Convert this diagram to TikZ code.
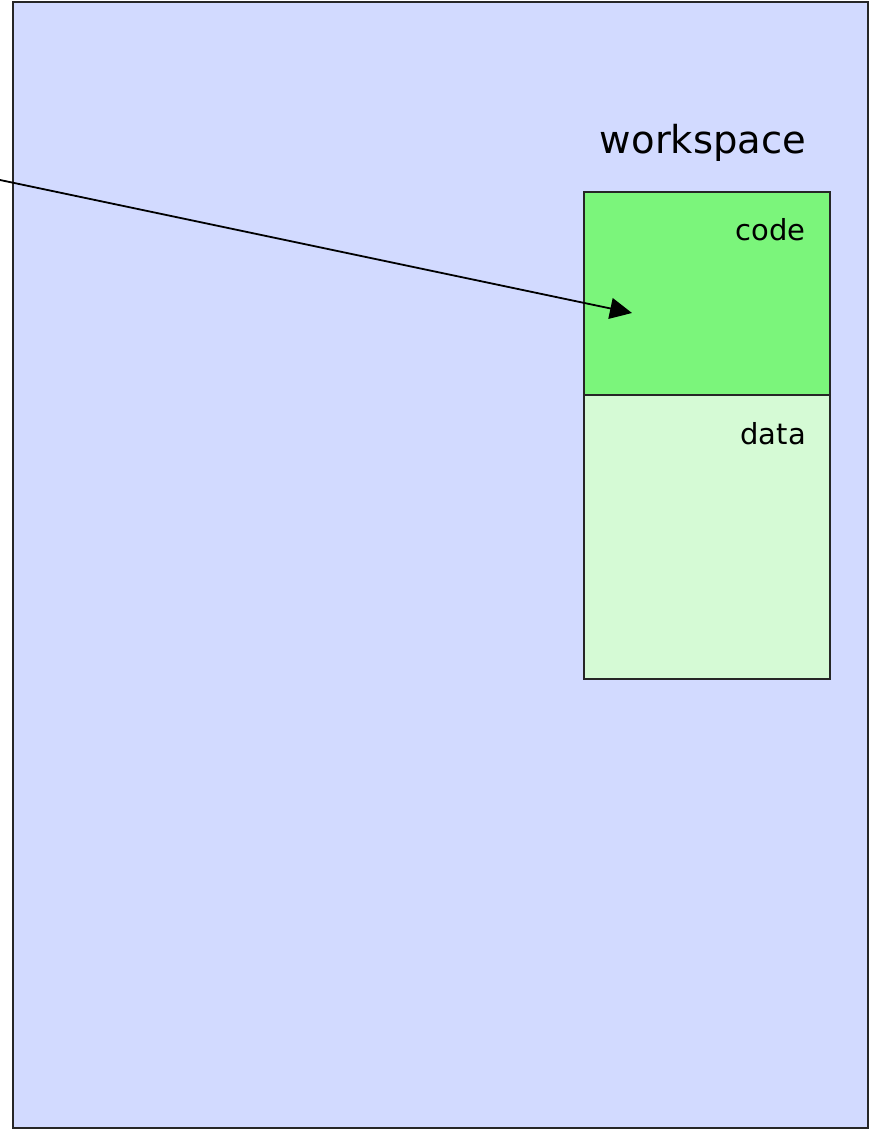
\documentclass[tikz,border=0pt]{standalone}
\usepackage{fontspec}
\setmainfont{DejaVu Sans}
\usetikzlibrary{arrows.meta}
\definecolor{spaceblue}{RGB}{210,218,255}
\definecolor{codegreen}{RGB}{123,245,123}
\definecolor{datagreen}{RGB}{213,250,213}

\begin{document}
\begin{tikzpicture}[x=1pt, y=-1pt]
    \tikzstyle{region}=[draw=black!85, line width=2pt, inner sep=0pt, anchor=north west, shape=rectangle]
    \tikzstyle{label}=[fill=none, draw=none, inner sep=0pt]
    \tikzstyle{arrow}=[-{Triangle[length=22pt, width=21pt]}, line width=1.8pt]
    \useasboundingbox (0,0) rectangle (869,1131);

    % the address space and the workspace inside it
    \node [style=region, fill=spaceblue, minimum width=855pt, minimum height=1126pt] (space) at (12,1) {};
    \node [style=region, fill=codegreen, minimum width=246pt, minimum height=203pt] (code) at (583,191) {};
    \node [style=region, fill=datagreen, minimum width=246pt, minimum height=284pt] (data) at (583,394) {};

    \node [style=label] (title) at (703,143) {\fontsize{38.5}{46}\selectfont workspace};
    \node [style=label, anchor=east] (codelbl) at (806,230) {\fontsize{29}{34}\selectfont code};
    \node [style=label, anchor=east] (datalbl) at (806,434) {\fontsize{29}{34}\selectfont data};

    % pointer coming in from the left
    \coordinate (src) at (0,180);
    \coordinate (hit) at (632,313);
    \draw [style=arrow] (src) -- (hit);
\end{tikzpicture}
\end{document}
